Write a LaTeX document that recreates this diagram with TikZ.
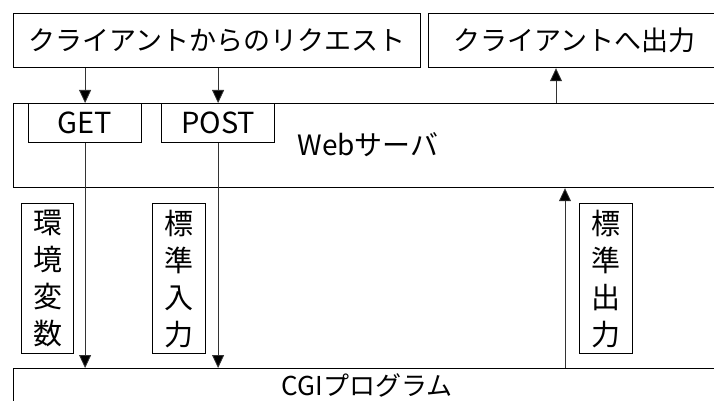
\documentclass[tikz,border=0pt]{standalone}
\usepackage{fontspec}
\setmainfont{Noto Sans CJK JP}
\usetikzlibrary{arrows.meta}
\tikzset{
  box/.style={draw=black, line width=1.2pt, rectangle, inner sep=0pt, anchor=north west, font=\fontsize{28}{30}\selectfont},
  vbox/.style={draw=black, line width=1.2pt, rectangle, inner sep=0pt, anchor=north west, align=center, font=\fontsize{29}{37}\selectfont},
  arr/.style={draw=black!80, line width=0.8pt, -{Triangle[width=12pt,length=13pt,fill=black]}}
}
\begin{document}
\begin{tikzpicture}[x=1pt,y=-1pt]
\useasboundingbox (0,0) rectangle (714,401);
\clip (0,0) rectangle (714,401);
% top boxes
\node[box, minimum width=407pt, minimum height=54pt, font=\fontsize{27}{30}\selectfont] (req) at (13,13) {クライアントからのリクエスト};
\node[box, minimum width=310pt, minimum height=54pt, text width=300pt, align=left, font=\fontsize{27}{30}\selectfont] (out) at (428,13) {\hspace*{20pt}クライアントへ出力};
% web server
\node[box, minimum width=720pt, minimum height=84pt] (web) at (13,103) {};
\node[font=\fontsize{28}{30}\selectfont, inner sep=0pt] (webt) at (368,145) {Webサーバ};
\node[box, minimum width=113pt, minimum height=39pt, font=\fontsize{29}{30}\selectfont] (get) at (28,103) {GET};
\node[box, minimum width=113pt, minimum height=39pt, font=\fontsize{29}{30}\selectfont] (post) at (161,103) {POST};
% labels
\node[vbox, minimum width=52pt, minimum height=150pt] (env) at (21,203) {環\\境\\変\\数};
\node[vbox, minimum width=53pt, minimum height=150pt] (stdin) at (152,203) {標\\準\\入\\力};
\node[vbox, minimum width=53pt, minimum height=150pt] (stdout) at (579,203) {標\\準\\出\\力};
% CGI
\node[box, minimum width=720pt, minimum height=60pt] (cgi) at (13,368) {};
\node[font=\fontsize{26}{30}\selectfont, inner sep=0pt] (cgit) at (367,385) {CGIプログラム};
% coordinates for the up arrows
\coordinate (u1) at (556,0);
\coordinate (u2) at (565,0);
% arrows
\draw[arr] (req.south -| get) -- (web.north -| get);
\draw[arr] (req.south -| post) -- (web.north -| post);
\draw[arr] (get.south) -- (cgi.north -| get);
\draw[arr] (post.south) -- (cgi.north -| post);
\draw[arr] (web.north -| u1) -- (out.south -| u1);
\draw[arr] (cgi.north -| u2) -- (web.south -| u2);
\end{tikzpicture}
\end{document}
